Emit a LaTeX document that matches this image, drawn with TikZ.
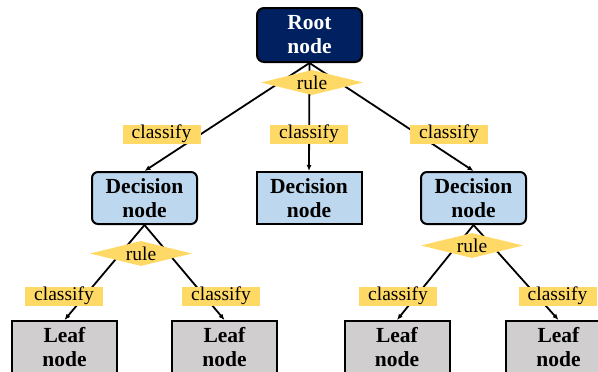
\documentclass[tikz,border=0pt]{standalone}
\usepackage{fontspec}
\setmainfont{Liberation Serif}
\usetikzlibrary{arrows.meta,positioning,shapes.geometric,backgrounds}
\definecolor{rootfill}{HTML}{002060}
\definecolor{rulegold}{HTML}{FFD966}
\definecolor{decfill}{HTML}{BDD7EE}
\definecolor{leaffill}{HTML}{D0CECE}

\begin{document}
\begin{tikzpicture}[
  x=1pt, y=-1pt,
  >={Latex[length=6pt,width=5pt]},
  stage/.style={draw, line width=2pt, align=center, inner sep=0pt,
    minimum width=105pt, minimum height=52pt,
    font=\fontsize{21.5}{24}\selectfont\bfseries},
  rootnode/.style={stage, rounded corners=7pt, fill=rootfill, text=white,
    minimum height=54pt},
  decision/.style={stage, rounded corners=6pt, fill=decfill},
  flatdecision/.style={stage, fill=decfill},
  leaf/.style={stage, fill=leaffill},
  test/.style={diamond, fill=rulegold, inner sep=0pt, aspect=4,
    minimum width=102pt, minimum height=25pt,
    font=\fontsize{19.5}{21}\selectfont},
  tag/.style={fill=rulegold, inner sep=0pt, minimum width=78pt,
    minimum height=19pt, font=\fontsize{19.5}{21}\selectfont},
  flow/.style={->, line width=1.8pt}
]
  \useasboundingbox (0,0) rectangle (598,372);

  % top level
  \node[rootnode] (root) at (309.5,35) {Root\\node};
  \node[test] (rootrule) at (312,82.5) {rule};

  \node[decision] (decL) at (144.5,198) {Decision\\node};
  \node[flatdecision] (decM) at (309,198) {Decision\\node};
  \node[decision] (decR) at (473.5,198) {Decision\\node};

  \node[tag] (tagL) at (161.5,134) {classify};
  \node[tag] (tagM) at (309,134) {classify};
  \node[tag] (tagR) at (449,134) {classify};

  % second level
  \node[test] (ruleL) at (141,253.5) {rule};
  \node[test] (ruleR) at (472,245.5) {rule};

  \node[leaf] (leafA) at (64.5,347) {Leaf\\node};
  \node[leaf] (leafB) at (224.5,347) {Leaf\\node};
  \node[leaf] (leafC) at (397,347) {Leaf\\node};
  \node[leaf] (leafD) at (558.5,347) {Leaf\\node};

  \node[tag] (tagA) at (64,296) {classify};
  \node[tag] (tagB) at (221,296) {classify};
  \node[tag] (tagC) at (398,296) {classify};
  \node[tag] (tagD) at (557.5,296) {classify};

  \begin{scope}[on background layer]
    \draw[flow] (root.south) -- (decL.north);
    \draw[flow] (root.south) -- (decM.north);
    \draw[flow] (root.south) -- (decR.north);
    \draw[flow] (decL.south) -- (leafA.north);
    \draw[flow] (decL.south) -- (leafB.north);
    \draw[flow] (decR.south) -- (leafC.north);
    \draw[flow] (decR.south) -- (leafD.north);
  \end{scope}
\end{tikzpicture}
\end{document}
